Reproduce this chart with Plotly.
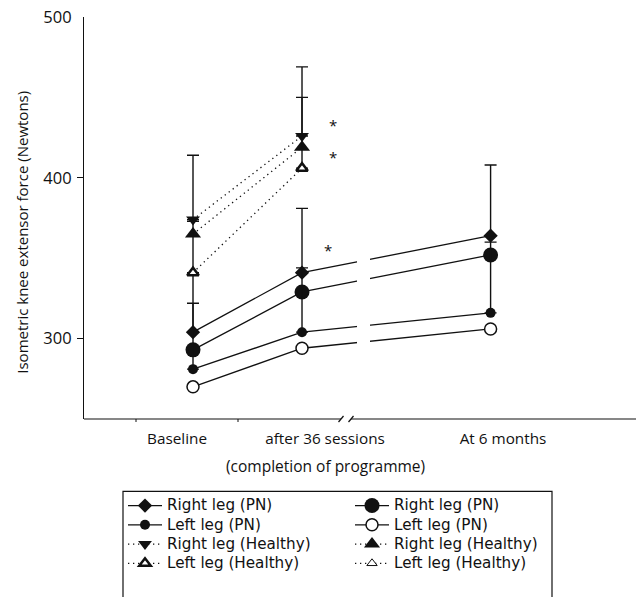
import plotly.graph_objects as go

# ---------------- data ----------------
time_labels = ["Baseline", "after 36 sessions", "At 6 months"]
time_pos = [0, 1, 2.73]          # position of each time point on the (broken) x axis

right_pn_a = [304, 341, 364]
right_pn_a_sd = [37, 40, 44]
right_pn_b = [293, 329, 352]
left_pn_a = [281, 304, 316]
left_pn_a_sd = [41, 40, 44]
left_pn_b = [270, 294, 306]

right_h_down = [374, 426]
right_h_down_sd = [40, 43]
right_h_up = [365, 419]
left_h_open = [341, 406]
left_h_open_sd = [32, 44]

y_ticks = [300, 400, 500]
sig_marks = [(1.28, 433), (1.28, 413), (1.24, 355)]

FONT = "Open Sans"
LEG_FONT = "DejaVu Sans"
BLACK = "#111111"
DOT = "1.3px,3.7px"

def px2x(px):
    return (px - 193) / 109.0

def py2paper(py):
    return (419.5 - py) / 402.5

fig = go.Figure()

def eb(arr):
    return dict(type="data", array=arr, arrayminus=[0] * len(arr), symmetric=False,
                color=BLACK, thickness=1.4, width=6)

# row-major legend order: col1, col2, col1, col2 ...
fig.add_trace(go.Scatter(x=time_pos, y=right_pn_a, name="Right leg (PN)", mode="lines+markers",
                         line=dict(color=BLACK, width=1.3),
                         marker=dict(symbol="diamond", size=11, color=BLACK),
                         error_y=eb(right_pn_a_sd), legendrank=1))
fig.add_trace(go.Scatter(x=time_pos, y=right_pn_b, name="Right leg (PN)", mode="lines+markers",
                         line=dict(color=BLACK, width=1.3),
                         marker=dict(symbol="circle", size=15, color=BLACK), legendrank=2))
fig.add_trace(go.Scatter(x=time_pos, y=left_pn_a, name="Left leg (PN)", mode="lines+markers",
                         line=dict(color=BLACK, width=1.3),
                         marker=dict(symbol="circle", size=10, color=BLACK),
                         error_y=eb(left_pn_a_sd), legendrank=3))
fig.add_trace(go.Scatter(x=time_pos, y=left_pn_b, name="Left leg (PN)", mode="lines+markers",
                         line=dict(color=BLACK, width=1.3),
                         marker=dict(symbol="circle", size=12, color="white",
                                     line=dict(color=BLACK, width=1.5)), legendrank=4))
fig.add_trace(go.Scatter(x=time_pos[:2], y=right_h_down, name="Right leg (Healthy)", mode="lines+markers",
                         line=dict(color=BLACK, width=1.3, dash=DOT),
                         marker=dict(symbol="triangle-down", size=12, color=BLACK),
                         error_y=eb(right_h_down_sd), legendrank=5))
fig.add_trace(go.Scatter(x=time_pos[:2], y=right_h_up, name="Right leg (Healthy)", mode="lines+markers",
                         line=dict(color=BLACK, width=1.3, dash=DOT),
                         marker=dict(symbol="triangle-up", size=14, color=BLACK), legendrank=6))
fig.add_trace(go.Scatter(x=time_pos[:2], y=left_h_open, name="Left leg (Healthy)", mode="lines+markers",
                         line=dict(color=BLACK, width=1.3, dash=DOT),
                         marker=dict(symbol="triangle-up", size=10, color="white",
                                     line=dict(color=BLACK, width=2.5)),
                         error_y=eb(left_h_open_sd), legendrank=7))
fig.add_trace(go.Scatter(x=[None], y=[None], name="Left leg (Healthy)", mode="lines+markers",
                         line=dict(color=BLACK, width=1.3, dash=DOT),
                         marker=dict(symbol="triangle-up", size=9, color="white",
                                     line=dict(color=BLACK, width=1)), legendrank=8))

shapes = []
# break in the data lines
shapes.append(dict(type="rect", xref="x", yref="paper", x0=px2x(357), x1=px2x(370),
                   y0=0.01, y1=1, fillcolor="white", line=dict(width=0), layer="above"))
# x axis line with break
shapes.append(dict(type="line", xref="x", yref="paper", x0=-1, x1=px2x(341), y0=0, y1=0,
                   line=dict(color=BLACK, width=1.2)))
shapes.append(dict(type="line", xref="x", yref="paper", x0=px2x(351), x1=4.1, y0=0, y1=0,
                   line=dict(color=BLACK, width=1.2)))
for bx in (341, 351):
    shapes.append(dict(type="line", xref="x", yref="paper", xsizemode="pixel", ysizemode="pixel",
                       xanchor=px2x(bx), yanchor=0, x0=-2.5, x1=2.5, y0=-3, y1=3,
                       line=dict(color=BLACK, width=1.2)))
# tiny x ticks
for tx in (136, 238):
    shapes.append(dict(type="line", xref="x", yref="paper", ysizemode="pixel", yanchor=0,
                       x0=px2x(tx), x1=px2x(tx), y0=0, y1=-3, line=dict(color=BLACK, width=1)))
# legend box
shapes.append(dict(type="rect", xref="paper", yref="paper",
                   x0=(123 - 84) / 552, x1=(552 - 84) / 552, y0=py2paper(492), y1=py2paper(620),
                   line=dict(color=BLACK, width=1.2), fillcolor="rgba(0,0,0,0)"))

annotations = []
for (ax, ay) in sig_marks:
    annotations.append(dict(x=ax, y=ay, xref="x", yref="y", text="*", showarrow=False,
                            font=dict(family=FONT, size=15, color=BLACK), yanchor="middle"))
annotations.append(dict(x=-62 / 552, y=py2paper(233), xref="paper", yref="paper",
                        xanchor="center", yanchor="middle",
                        text="Isometric knee extensor force (Newtons)", textangle=-90,
                        showarrow=False, font=dict(family=FONT, size=15, color=BLACK)))
annotations.append(dict(x=px2x(325), y=py2paper(467), xref="x", yref="paper",
                        xanchor="center", yanchor="middle",
                        text="(completion of programme)", showarrow=False,
                        font=dict(family=FONT, size=15.5, color=BLACK)))

fig.update_layout(
    width=636, height=597,
    margin=dict(l=84, r=0, t=17, b=177.5),
    paper_bgcolor="white", plot_bgcolor="white",
    font=dict(family=FONT, size=14, color=BLACK),
    showlegend=True,
    legend=dict(orientation="h", x=(123 - 84) / 552, y=py2paper(491.5), xanchor="left", yanchor="top",
                entrywidth=178, entrywidthmode="pixels", itemwidth=34,
                font=dict(family=LEG_FONT, size=12.5, color=BLACK), bgcolor="rgba(0,0,0,0)",
                borderwidth=0, tracegroupgap=0),
    xaxis=dict(range=[-1, 4.064], showgrid=False, zeroline=False, showline=False, automargin=False,
               tickvals=[px2x(177), px2x(325), px2x(503)], ticktext=time_labels,
               ticks="", ticklabelstandoff=9, tickfont=dict(family=FONT, size=15.3, color=BLACK)),
    yaxis=dict(range=[250, 500], showgrid=False, zeroline=False, showline=True, automargin=False,
               linecolor=BLACK, linewidth=1.2, tickvals=y_ticks, ticks="",
               ticklabelstandoff=8, tickfont=dict(family=FONT, size=16.5, color=BLACK),
               minor=dict(tickvals=[300, 400], ticks="outside", ticklen=6, tickcolor=BLACK, tickwidth=1.2)),
    shapes=shapes, annotations=annotations,
)

# enlarge legend text without changing the legend's row pitch
for tr in fig.data:
    tr.name = "<span style='font-size:15.2px'>" + tr.name + "</span>"

fig.write_html("out.html", config={"displayModeBar": False},
               post_script="document.body.style.margin='0';document.body.style.overflow='hidden';")
